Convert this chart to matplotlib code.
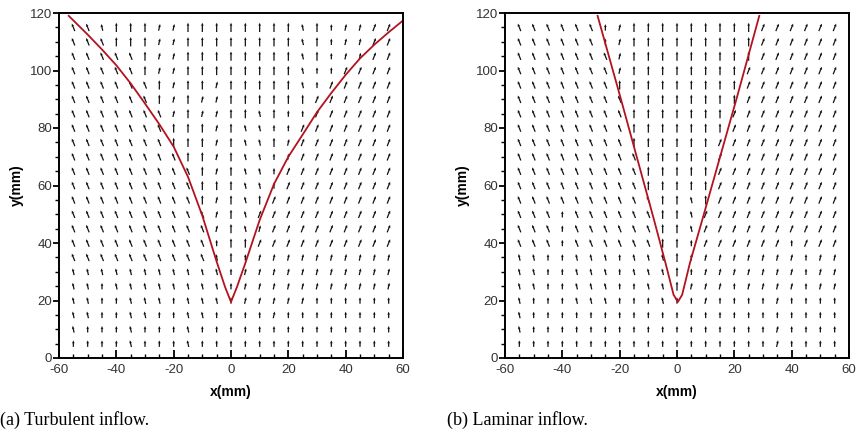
import numpy as np
import matplotlib
matplotlib.use('Agg')
from matplotlib import pyplot as plt
from matplotlib.ticker import MultipleLocator

# grid of the measured vectors (mm)
grid_x = [-55, -50, -45, -40, -35, -30, -25, -20, -15, -10, -5, 0,
          5, 10, 15, 20, 25, 30, 35, 40, 45, 50, 55]
grid_y = [115, 110, 105, 100, 95, 90, 85, 80, 75, 70, 65, 60,
          55, 50, 45, 40, 35, 30, 25, 20, 15, 10, 5]

# direction read per vector, rows top -> bottom, columns left -> right
# L strong left tilt, l slight left, v vertical, V vertical (jet core), r slight right, R strong right
field_a = [
    "LLlVVVrrVVVV" + "VVVVlVvrrRR",
    "LLLVVVrrVVVV" + "VVVVlVvrrRR",
    "LLLLLVrrVVVV" + "VVVVlVvrrRR",
    "LLLLLVrrVVVV" + "VVVVlvvRRRR",
    "LLLLLLVrVVrV" + "VVVVlvRRRRR",
    "LLLLLLVrVrrV" + "VVVVVRRRRRR",
    "LLLLLLLrVrrV" + "VlVvvRRRRRR",
    "LLLLLLLVVVrV" + "llvvRRRRRRR",
    "LLLLLLLVVVrV" + "llVrRRRRRRR",
    "LLLLLLLLVVrV" + "llvrRRRRRRR",
    "LLLLLLLLLVrV" + "llvRRRRRRRR",
    "LLLLLLLLLVVV" + "llvRRRRRRRR",
    "LLLLLLLLLVrV" + "lVRRRRRRRRR",
    "LLLLLLLLLLrV" + "lRRRRRRRRRR",
    "LLLLLLLLLLrV" + "lrRRRRRRRRR",
    "LLLLLLLLLLvV" + "VRRRRRRRRRR",
    "LLLLLLLLLLlV" + "vrrrrrrrrrr",
    "lllllllllllv" + "rrrrrrrrrrr",
    "llvllllllllv" + "rrrrrrrrrrr",
    "llvvlllvlllv" + "rrrrrvvvvvv",
    "llvvllvvllvv" + "vvrvvvvvvvv",
    "lvvvlvvvlvvv" + "vvvvvvvvvvv",
    "vvvvlvvvlvvv" + "vvvvvvvvvvv",
]

field_b = [
    "LLLLLLvrVVVV" + "VVVVVRRRRRR",
    "LLLLLLvrVVVV" + "VVVVVRRRRRR",
    "LLLLLLLrVVVV" + "VVVVVRRRRRR",
    "LLLLLLLrVVVV" + "VVVVRRRRRRR",
    "LLLLLLLVVVVV" + "VVVVRRRRRRR",
    "LLLLLLLLVVVV" + "VVVVRRRRRRR",
    "LLLLLLLLVVVV" + "VVVRRRRRRRR",
    "LLLLLLLLVVVV" + "VVVRRRRRRRR",
    "LLLLLLLLVVVV" + "VVRRRRRRRRR",
    "LLLLLLLLLVVV" + "VVRRRRRRRRR",
    "LLLLLLLLLVVV" + "VVRRRRRRRRR",
    "LLLLLLLLLVVV" + "VVRRRRRRRRR",
    "LLLLLLLLLLVV" + "lVRRRRRRRRR",
    "LLLvLLLLLLVV" + "lRRRRRRRRRR",
    "LLLvLLLLLLVV" + "lRRRRRRRRRR",
    "LLLvLLLLLLVV" + "vRRRRRRvRRR",
    "llvvlllvlllV" + "vrrrrrrrvrr",
    "llvvlllvlllV" + "vrrrrrrrvrr",
    "llvvlllvvllV" + "rrrvrrrrvrr",
    "lvvvlllvvvlv" + "vrvvvvrvvvv",
    "lvvvvvvvvvvv" + "vvvvvvvvvvv",
    "lvvvvvvvvvvv" + "vvvvvvrvvvv",
    "vvvvvvvvvvvv" + "vvvvvvrvvvv",
]

# fitted jet boundaries
curve_a_x = [-56.6, -50, -45, -40, -35, -30, -25, -20, -15, -10, -5, -2, 0,
             2, 5, 10, 15, 20, 25, 30, 35, 40, 45, 50, 55, 59.9]
curve_a_y = [119, 112.5, 107.3, 101.8, 95.5, 88.5, 81.3, 73.5, 63, 49.5, 33.5, 24.5, 19.5,
             24.5, 33, 48, 60.5, 70, 77.7, 85.5, 92.2, 98.5, 104.2, 109, 113.3, 117.3]
curve_b_x = [-27.7, -19.8, -8.3, -4, -1.2, 0.3, 1.8, 4.5, 9.2, 21.0, 28.7]
curve_b_y = [119, 90.9, 49.1, 33, 22, 19.5, 22, 33, 49.4, 91.0, 119]

# angle (deg from vertical) and relative length per code
codes = {'L': (-22, 1.0), 'l': (-13, 0.85), 'v': (0, 0.8),
         'V': (0, 1.15), 'r': (13, 0.85), 'R': (22, 1.0)}


def draw_panel(ax, field, cx, cy):
    X, Y = np.meshgrid(grid_x, grid_y)
    ang = np.array([[codes[c][0] for c in row] for row in field], dtype=float)
    mag = np.array([[codes[c][1] for c in row] for row in field], dtype=float)
    U = mag * np.sin(np.radians(ang)) * 2.8
    V = mag * np.cos(np.radians(ang)) * 2.8
    ax.quiver(X, Y, U, V, angles='xy', scale_units='xy', scale=1,
              pivot='middle', color='#111111', width=0.0036,
              headwidth=2.2, headlength=2.4, headaxislength=2.2)
    ax.plot(cx, cy, color='#b3121f', lw=1.3)
    ax.set_xlim(-60, 60)
    ax.set_ylim(0, 120)
    ax.xaxis.set_major_locator(MultipleLocator(20))
    ax.xaxis.set_minor_locator(MultipleLocator(5))
    ax.yaxis.set_major_locator(MultipleLocator(20))
    ax.yaxis.set_minor_locator(MultipleLocator(5))
    ax.tick_params(axis='x', which='major', direction='in', length=6, width=1.3,
                   labelsize=9.5, labelcolor='#333333', pad=4)
    ax.tick_params(axis='x', which='minor', direction='in', length=3, width=1)
    ax.tick_params(axis='y', which='major', direction='out', length=4, width=1.3,
                   labelsize=9.5, labelcolor='#333333', pad=1)
    ax.tick_params(axis='y', which='minor', direction='out', length=3, width=1)
    for s in ax.spines.values():
        s.set_linewidth(1.4)
    ax.set_xlabel('x(mm)', fontweight='bold', fontsize=10, labelpad=7)
    ax.set_ylabel('y(mm)', fontweight='bold', fontsize=10, labelpad=4)


plt.rcParams['font.family'] = ['Liberation Sans', 'DejaVu Sans']
plt.rcParams['axes.unicode_minus'] = False
fig = plt.figure(figsize=(8.58, 4.38), dpi=100)

ax1 = fig.add_axes([59 / 858, 80 / 438, 344 / 858, 345 / 438])
ax2 = fig.add_axes([505 / 858, 80 / 438, 344 / 858, 345 / 438])
draw_panel(ax1, field_a, curve_a_x, curve_a_y)
draw_panel(ax2, field_b, curve_b_x, curve_b_y)

fig.text(0.0, 0.041, '(a) Turbulent inflow.', family='Liberation Serif',
         fontsize=13, va='center', ha='left')
fig.text(447 / 858, 0.041, '(b) Laminar inflow.', family='Liberation Serif',
         fontsize=13, va='center', ha='left')

fig.savefig('out.png', dpi=100)
